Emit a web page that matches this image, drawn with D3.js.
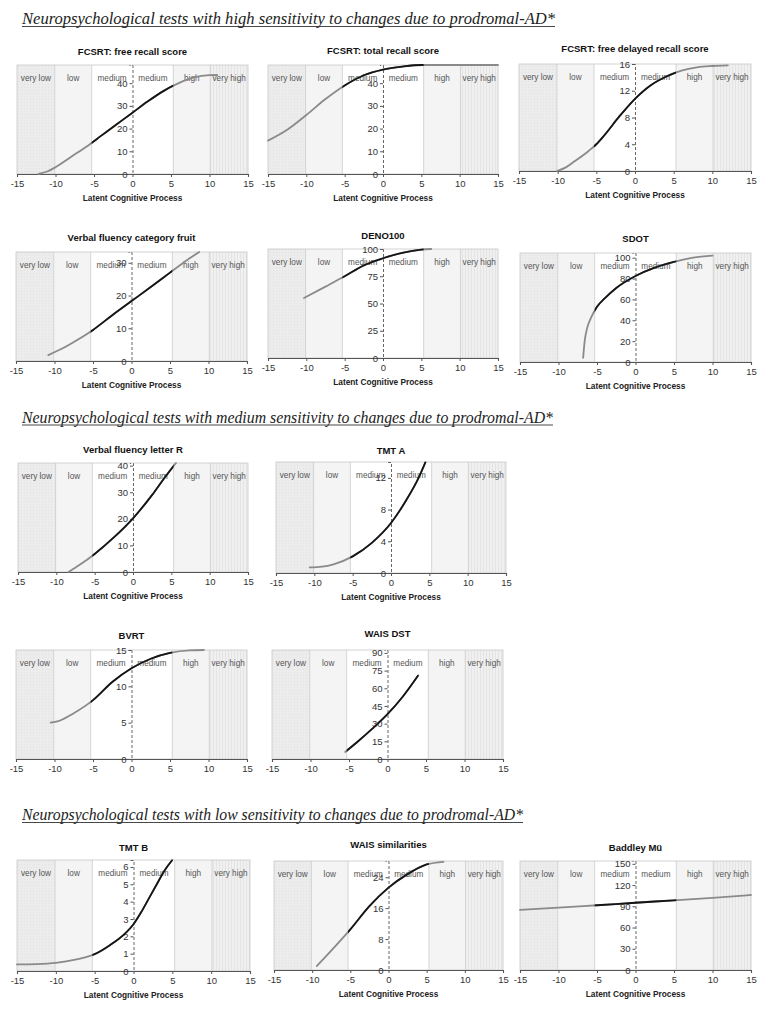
<!DOCTYPE html>
<html><head><meta charset="utf-8">
<script src="https://cdn.jsdelivr.net/npm/d3@7/dist/d3.min.js"></script>
<style>
body{margin:0;background:#fff;}
svg{display:block;}
</style></head>
<body>
<svg id="c" width="768" height="1016"></svg>
<script>
// ---------- DATA ----------
const sectionTitles = [
  "Neuropsychological tests with high sensitivity to changes due to prodromal-AD*",
  "Neuropsychological tests with medium sensitivity to changes due to prodromal-AD*",
  "Neuropsychological tests with low sensitivity to changes due to prodromal-AD*"
];
const testNames = ["FCSRT: free recall score","FCSRT: total recall score","FCSRT: free delayed recall score",
  "Verbal fluency category fruit","DENO100","SDOT",
  "Verbal fluency letter R","TMT A","BVRT","WAIS DST",
  "TMT B","WAIS similarities","Baddley Mü"];
const xTicks = [-15,-10,-5,0,5,10,15];
const bandEdges = [-15,-10.1,-5.3,0,5.3,10.1,15];
const bandLabels = ["very low","low","medium","medium","high","very high"];
const axisTitle = "Latent Cognitive Process";

const fcsrtFree   = [[-12.2,0],[-11,1.2],[-10,3],[-8,7.5],[-6,12],[-4,17],[-2,22],[0,27],[2,32],[4,36.5],[6,40],[8,42.5],[10,43.5],[11,43.6]];
const fcsrtTotal  = [[-15,14.7],[-12.5,19.5],[-10,26],[-7.5,33],[-5,39],[-2.5,43.5],[0,46],[2.5,47.3],[5,48],[10,48],[15,48]];
const fcsrtDelay  = [[-10.1,0],[-9,0.5],[-8,1.3],[-6,3],[-5,4],[-4,5.3],[-2,8.2],[0,10.8],[2,12.8],[4,14.1],[6,15],[8,15.5],[10,15.7],[12,15.8]];
const vfFruit     = [[-10.8,1.8],[-9,3.8],[-7,6.5],[-5,9.5],[-2.5,14],[0,18.3],[2.5,22.6],[5,27],[7,30.5],[8.8,33.3]];
const deno100     = [[-10.3,55],[-7.5,65.5],[-5,75],[-2.5,85],[0,91.5],[2.5,96.5],[5,99.5],[6.3,100]];
const sdot        = [[-6.8,4],[-6.6,20],[-6.3,32],[-5.8,42],[-5,53],[-4,61],[-2.5,71],[0,82.5],[2.5,90.5],[5,96],[7.5,100],[10,102]];
const vfLetterR   = [[-8.4,0],[-7,2.6],[-5,6.8],[-2.5,13],[0,20.2],[2.5,29],[4,35],[5.6,41]];
const tmtA        = [[-10.6,0.7],[-9,0.8],[-7.5,1.1],[-5,2.1],[-2.5,3.8],[0,6.3],[2,9.2],[3.5,11.8],[4.5,14]];
const bvrt        = [[-10.5,5],[-9.5,5.2],[-7.5,6.3],[-5,8.1],[-2.5,10.6],[0,12.5],[2.5,13.8],[5,14.6],[7.5,14.95],[9.4,15]];
const waisDst     = [[-5.5,6],[-4,14],[-2,25.5],[0,38],[2,53],[4,71]];
const tmtB        = [[-15,0.38],[-12.5,0.4],[-10,0.47],[-7.5,0.65],[-5,0.97],[-3,1.5],[-1,2.2],[0,2.7],[1,3.4],[2,4.2],[3,5],[4,5.8],[5,6.4]];
const waisSim     = [[-9.4,1],[-7.5,5],[-5,10.5],[-2.5,16.5],[0,21.3],[2.5,24.8],[5,27.3],[7.2,28]];
const baddley     = [[-15,85],[-10,88],[-5,91.5],[0,95],[5,98.5],[10,102],[15,106]];

const yTicksList = [[0,10,20,30,40],[0,10,20,30,40],[0,4,8,12,16],
  [0,10,20,30],[0,25,50,75,100],[0,20,40,60,80,100],
  [0,10,20,30,40],[0,4,8,12],[0,5,10,15],[0,15,30,45,60,75,90],
  [0,1,2,3,4,5,6],[0,8,16,24],[0,30,60,90,120,150]];
const yMaxList = [48,48,16,33.3,100,104.5,41,14,15,92.5,6.4,28.2,154];
const curves = [fcsrtFree,fcsrtTotal,fcsrtDelay,vfFruit,deno100,sdot,vfLetterR,tmtA,bvrt,waisDst,tmtB,waisSim,baddley];

// ---------- LAYOUT ----------
// [left, right, top, bottom, titleBaseline, showAxisTitle]
const layout = [
  [17,248,65,174,55,true],[268,498,65,174,54,true],[519,751,64,171,52,true],
  [16,247,252,361,240.5,true],[268,498,249,358,238.5,true],[520,751,253,362,241.5,true],
  [18,248,463,572,452.5,true],[276,506,462,573,453.5,true],
  [16,247,650,759,638.5,false],[272,503,650,759,636.5,false],
  [17,250,860,971,850.5,true],[274,503,861,970,847.5,true],[520,751,861,970,850.5,true]
];
const sectionPos = [[22,24,533],[22,422.5,531],[22,820,501]];

const svg = d3.select("#c");
const defs = svg.append("defs");
const dots = defs.append("pattern").attr("id","dots").attr("width",3).attr("height",3).attr("patternUnits","userSpaceOnUse");
dots.append("rect").attr("width",3).attr("height",3).attr("fill","#ececec");
dots.append("rect").attr("width",1).attr("height",1).attr("fill","#e2e2e2");
const vlines = defs.append("pattern").attr("id","vlines").attr("width",3).attr("height",3).attr("patternUnits","userSpaceOnUse");
vlines.append("rect").attr("width",3).attr("height",3).attr("fill","#f0f0f0");
vlines.append("rect").attr("width",1).attr("height",3).attr("fill","#e4e4e4");
const bandFills = ["url(#dots)","#f4f4f4","#ffffff","#ffffff","#f4f4f4","url(#vlines)"];

// section titles
sectionTitles.forEach((t,i)=>{
  const [x,y,len] = sectionPos[i];
  svg.append("text").attr("x",x).attr("y",y)
    .attr("font-family","'Liberation Serif','Times New Roman',serif")
    .attr("font-style","italic").attr("font-size",16.5).attr("fill","#222")
    .attr("textLength",len).attr("lengthAdjust","spacingAndGlyphs")
    .text(t);
  svg.append("line").attr("x1",x).attr("x2",x+len).attr("y1",y+2.5).attr("y2",y+2.5)
    .attr("stroke","#333").attr("stroke-width",0.9);
});

const font = "'Liberation Sans',Arial,sans-serif";

curves.forEach((data,i)=>{
  const [L,R,T,B,tY,showAT] = layout[i];
  const x = d3.scaleLinear().domain([-15,15]).range([L,R]);
  const y = d3.scaleLinear().domain([0,yMaxList[i]]).range([B,T]);
  const g = svg.append("g");

  // bands
  bandLabels.forEach((lab,j)=>{
    g.append("rect").attr("x",x(bandEdges[j])).attr("y",T)
      .attr("width",x(bandEdges[j+1])-x(bandEdges[j])).attr("height",B-T)
      .attr("fill",bandFills[j]);
  });
  [1,2,4,5].forEach(j=>{
    g.append("line").attr("x1",x(bandEdges[j])).attr("x2",x(bandEdges[j]))
      .attr("y1",T).attr("y2",B).attr("stroke","#cccccc").attr("stroke-width",0.8);
  });
  g.append("rect").attr("x",L).attr("y",T).attr("width",R-L).attr("height",B-T)
    .attr("fill","none").attr("stroke","#c8c8c8").attr("stroke-width",0.8);
  bandLabels.forEach((lab,j)=>{
    g.append("text").attr("x",(x(bandEdges[j])+x(bandEdges[j+1]))/2).attr("y",T+16)
      .attr("text-anchor","middle").attr("font-family",font).attr("font-size",8.2)
      .attr("fill","#555").text(lab);
  });

  // x axis
  const xa = g.append("g").attr("transform",`translate(0,${B})`)
    .call(d3.axisBottom(x).tickValues(xTicks).tickSize(3).tickPadding(3));
  xa.select(".domain").attr("stroke","#555").attr("stroke-width",1.1);
  xa.selectAll(".tick line").attr("stroke","#555");
  xa.selectAll("text").attr("font-family",font).attr("font-size",9.5).attr("fill","#333")
    .text(d=> d<0 ? "-"+Math.abs(d) : String(d));

  // y axis at x=0 (dashed)
  const ya = g.append("g").attr("transform",`translate(${x(0)},0)`)
    .call(d3.axisLeft(y).tickValues(yTicksList[i]).tickSize(3).tickPadding(2).tickFormat(d=>String(d)));
  ya.select(".domain").attr("stroke","#555").attr("stroke-dasharray","3,2").attr("stroke-width",0.9);
  ya.selectAll(".tick line").attr("stroke","#555");
  ya.selectAll("text").attr("font-family",font).attr("font-size",9.5).attr("fill","#333");

  // curve
  const line = d3.line().x(d=>x(d[0])).y(d=>y(d[1])).curve(d3.curveMonotoneX);
  g.append("path").datum(data).attr("d",line).attr("fill","none")
    .attr("stroke","#8a8a8a").attr("stroke-width",1.8).attr("stroke-linecap","round");
  const cid = "clip"+i;
  defs.append("clipPath").attr("id",cid).append("rect")
    .attr("x",x(-5.3)).attr("y",T-5).attr("width",x(5.3)-x(-5.3)).attr("height",B-T+10);
  g.append("path").datum(data).attr("d",line).attr("fill","none")
    .attr("clip-path",`url(#${cid})`)
    .attr("stroke","#151515").attr("stroke-width",1.8);

  // titles
  g.append("text").attr("x",(L+R)/2).attr("y",tY).attr("text-anchor","middle")
    .attr("font-family",font).attr("font-weight","bold").attr("font-size",9.5).attr("fill","#111")
    .text(testNames[i]);
  if(showAT){
    g.append("text").attr("x",(L+R)/2).attr("y",B+26.5).attr("text-anchor","middle")
      .attr("font-family",font).attr("font-weight","bold").attr("font-size",8.3).attr("fill","#222")
      .text(axisTitle);
  }
});
</script>
</body></html>
